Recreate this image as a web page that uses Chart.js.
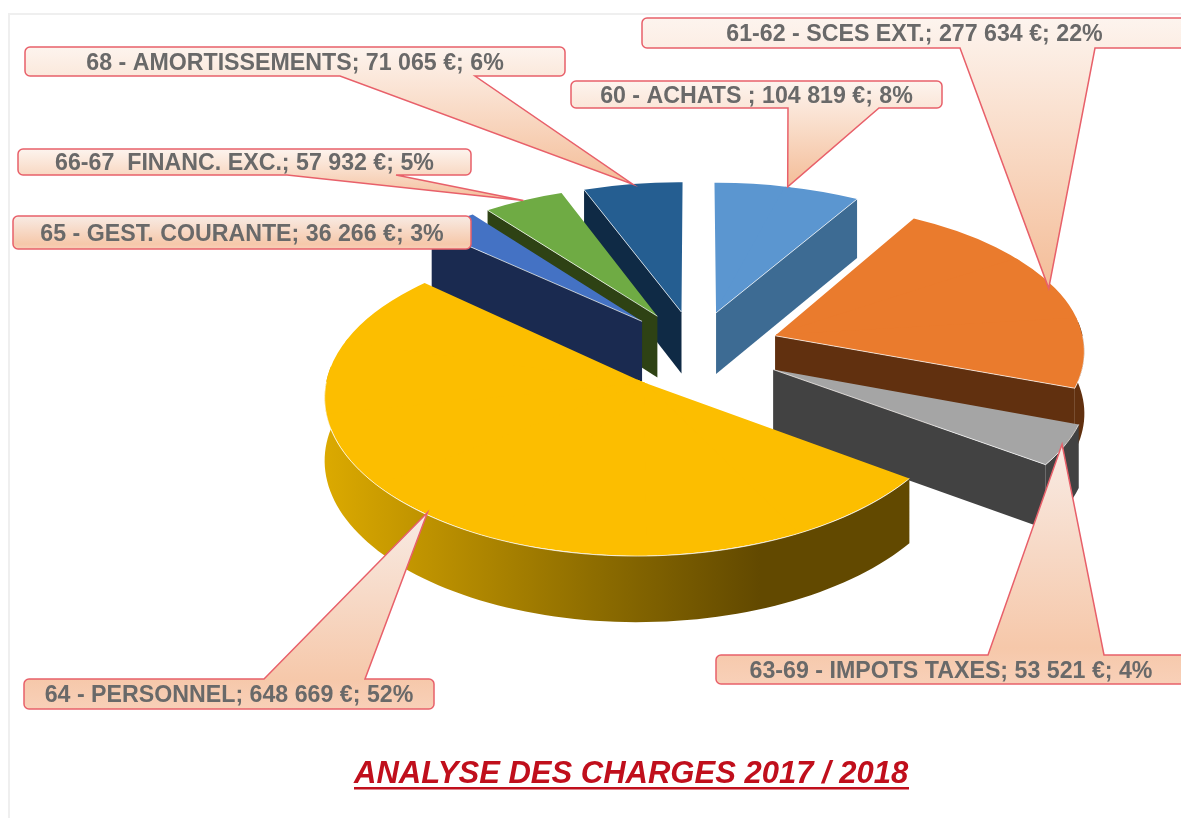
<!DOCTYPE html>
<html lang="fr">
<head>
<meta charset="utf-8">
<title>Analyse des charges 2017 / 2018</title>
<script src="https://cdn.jsdelivr.net/npm/chart.js@4/dist/chart.umd.min.js"></script>
<style>
    html, body { margin: 0; padding: 0; background: #fff; }
    canvas { display: block; filter: blur(0.4px); }
</style>
</head>
<body>
<canvas id="chargesChart" width="1181" height="818"></canvas>
<script>
// values read from the callouts
const categories = ['60 - ACHATS ', '61-62 - SCES EXT.', '63-69 - IMPOTS TAXES', '64 - PERSONNEL',
    '65 - GEST. COURANTE', '66-67  FINANC. EXC.', '68 - AMORTISSEMENTS'];
const amounts = [104819, 277634, 53521, 648669, 36266, 57932, 71065];
const titleText = 'ANALYSE DES CHARGES 2017 / 2018';

const topColors = ['#5b96d0', '#ea7b2d', '#a5a5a5', '#fcbe00', '#4472c4', '#6fab44', '#255e91'];
const sideColors = ['#3d6b93', '#61300f', '#424242', null, '#1a2a50', '#2e4214', '#0f2a45'];
const explode = [0.26, 0.275, 0.28, 0.27, 0.26, 0.26, 0.26];
const drawOrder = [6, 0, 5, 4, 1, 2, 3]; // back to front

// callout boxes: x, y, w, h, then where the pointer leaves the box
const callouts = [
    [571, 81, 371, 27, 788, 879],
    [642, 18, 545, 30, 960, 1095],
    [716, 655, 470, 29, 988, 1104],
    [24, 679, 410, 30, 264, 365],
    [13, 216, 458, 33, null, null],
    [18, 149, 453, 26, 287, 396],
    [25, 47, 540, 29, 340, 475]
];
const tipRadius = [1, 0.98, 0.99, 0.99, 1, 1, 1];

// camera for the tilted pie
const cam = { cx: 695.5, cy: 349.6, fx: 310, fy: 150, px: 0.085, py: 0.1, depth: 62 };

const sum = amounts.reduce((a, b) => a + b, 0);
const euros = (v) => String(v).replace(/\B(?=(\d{3})+$)/g, ' ');
const calloutText = (i) => `${categories[i]}; ${euros(amounts[i])} €; ${Math.round(amounts[i] / sum * 100)}%`;

// angles from 12 o'clock, clockwise, taken from the arc element
const angles = (arc) => [arc.startAngle + Math.PI / 2, arc.endAngle + Math.PI / 2];

// project a point of slice i (angle, radius in pie units) to the page
function project(i, arc, th, r) {
    const [a0, a1] = angles(arc);
    const mid = (a0 + a1) / 2;
    const X = explode[i] * Math.sin(mid) + r * Math.sin(th);
    const Y = -explode[i] * Math.cos(mid) - r * Math.cos(th);
    const wy = 1 - cam.py * Y;
    return {
        x: cam.cx + cam.fx * X / (1 - cam.px * Y),
        y: cam.cy + cam.fy * Y / wy,
        d: cam.depth / Math.sqrt(wy)
    };
}

function rimPoints(i, arc, from, to) {
    const pts = [];
    const n = Math.max(2, Math.ceil((to - from) / 0.03));
    for (let k = 0; k <= n; k++) pts.push(project(i, arc, from + (to - from) * k / n, 1));
    return pts;
}

function fillPoly(ctx, pts, fill) {
    ctx.beginPath();
    pts.forEach((p, k) => k ? ctx.lineTo(p.x, p.y) : ctx.moveTo(p.x, p.y));
    ctx.closePath();
    ctx.fillStyle = fill;
    ctx.fill();
}

const lowered = (p) => ({ x: p.x, y: p.y + p.d, d: p.d });

// true when the wall under the radial edge at angle th can be seen
function edgeFacesViewer(i, arc, th) {
    const [a0, a1] = angles(arc);
    const apex = project(i, arc, a0, 0);
    const inner = project(i, arc, (a0 + a1) / 2, 0.6);
    const p = project(i, arc, th, 1);
    if (Math.abs(p.x - apex.x) < 6) return false;
    return inner.y < apex.y + (p.y - apex.y) * (inner.x - apex.x) / (p.x - apex.x);
}

function drawWalls(ctx, i, arc) {
    const [a0, a1] = angles(arc);
    let fill = sideColors[i];
    if (!fill) {
        fill = ctx.createLinearGradient(323, 0, 760, 0);
        fill.addColorStop(0, '#dcaa00');
        fill.addColorStop(0.3, '#b68c00');
        fill.addColorStop(0.65, '#8a6a00');
        fill.addColorStop(1, '#624900');
    }
    const apex = project(i, arc, a0, 0);
    [a0, a1].forEach(th => {
        if (!edgeFacesViewer(i, arc, th)) return;
        const p = project(i, arc, th, 1);
        fillPoly(ctx, [apex, p, lowered(p), lowered(apex)], fill);
    });
    // only the front of the rim shows a wall
    const from = Math.max(a0, Math.PI / 2 - 0.1), to = Math.min(a1, Math.PI * 1.5 + 0.1);
    if (to > from) {
        const rim = rimPoints(i, arc, from, to);
        fillPoly(ctx, rim.concat(rim.map(lowered).reverse()), fill);
    }
}

// the library draws the slice; each wedge of it gets the affine that fits the camera
function drawTop(ctx, i, arc) {
    const [a0, a1] = angles(arc);
    const n = Math.ceil((a1 - a0) / (Math.PI / 6));
    const step = (a1 - a0) / n;
    const R = arc.outerRadius;
    for (let k = 0; k < n; k++) {
        const a = a0 + k * step, b = a + step;
        const A = project(i, arc, a, 0), Pa = project(i, arc, a, 1), Pb = project(i, arc, b, 1);
        const u1 = [R * Math.sin(a), -R * Math.cos(a)], u2 = [R * Math.sin(b), -R * Math.cos(b)];
        const v1 = [Pa.x - A.x, Pa.y - A.y], v2 = [Pb.x - A.x, Pb.y - A.y];
        const det = u1[0] * u2[1] - u2[0] * u1[1];
        const m = [(v1[0] * u2[1] - v2[0] * u1[1]) / det, (v1[1] * u2[1] - v2[1] * u1[1]) / det,
            (v2[0] * u1[0] - v1[0] * u2[0]) / det, (v2[1] * u1[0] - v1[1] * u2[0]) / det];
        // clip starts a little behind the apex so neighbouring wedges leave no seam
        const back = project(i, arc, (a + b) / 2, 0.03);
        ctx.save();
        ctx.beginPath();
        ctx.moveTo(2 * A.x - back.x, 2 * A.y - back.y);
        [a - 0.01, b + 0.01].forEach(t => {
            const q = project(i, arc, t, 1.1);
            ctx.lineTo(q.x, q.y);
        });
        ctx.closePath();
        ctx.clip();
        ctx.setTransform(m[0], m[1], m[2], m[3],
            A.x - m[0] * arc.x - m[2] * arc.y, A.y - m[1] * arc.x - m[3] * arc.y);
        arc.draw(ctx);
        ctx.restore();
    }
}

// thin pale line where the top face meets a visible wall
function drawEdges(ctx, i, arc) {
    const [a0, a1] = angles(arc);
    const apex = project(i, arc, a0, 0);
    ctx.save();
    ctx.strokeStyle = 'rgba(255,255,255,0.7)';
    ctx.lineWidth = 1;
    [a0, a1].forEach(th => {
        if (!edgeFacesViewer(i, arc, th)) return;
        const p = project(i, arc, th, 1);
        ctx.beginPath();
        ctx.moveTo(apex.x, apex.y);
        ctx.lineTo(p.x, p.y);
        ctx.stroke();
    });
    if (a1 > Math.PI / 2 && a0 < Math.PI * 1.5) {
        const front = rimPoints(i, arc, Math.max(a0, Math.PI / 2), Math.min(a1, Math.PI * 1.5));
        ctx.beginPath();
        front.forEach((p, k) => k ? ctx.lineTo(p.x, p.y) : ctx.moveTo(p.x, p.y));
        ctx.stroke();
    }
    ctx.restore();
}

function drawCallout(ctx, i, arc) {
    const [x, y, w, h, base0, base1] = callouts[i];
    const [a0, a1] = angles(arc);
    const tip = project(i, arc, (a0 + a1) / 2, tipRadius[i]);
    const hasPointer = base0 !== null;
    const above = hasPointer && tip.y < y;
    const below = hasPointer && tip.y > y + h;
    const r = 5;
    ctx.beginPath();
    ctx.moveTo(x + r, y);
    if (above) {
        ctx.lineTo(base0, y);
        ctx.lineTo(tip.x, tip.y);
        ctx.lineTo(base1, y);
    }
    ctx.arcTo(x + w, y, x + w, y + h, r);
    ctx.arcTo(x + w, y + h, x, y + h, r);
    if (below) {
        ctx.lineTo(base1, y + h);
        ctx.lineTo(tip.x, tip.y);
        ctx.lineTo(base0, y + h);
    }
    ctx.arcTo(x, y + h, x, y, r);
    ctx.arcTo(x, y, x + w, y, r);
    ctx.closePath();
    const grad = ctx.createLinearGradient(0, above ? tip.y : y, 0, below ? tip.y : y + h);
    if (below) {
        grad.addColorStop(0, '#fdf4ee');
        grad.addColorStop(1, '#f4bd98');
    } else {
        grad.addColorStop(0, '#f8ebe4');
        grad.addColorStop(0.85, '#f6c8aa');
        grad.addColorStop(1, '#f8d0b8');
    }
    ctx.fillStyle = grad;
    ctx.fill();
    ctx.strokeStyle = '#e8606a';
    ctx.lineWidth = 1.5;
    ctx.stroke();
    ctx.fillStyle = '#696969';
    ctx.font = 'bold 23.2px "Liberation Sans", Arial, sans-serif';
    ctx.textAlign = 'center';
    ctx.textBaseline = 'middle';
    ctx.fillText(calloutText(i), x + w / 2, y + h / 2 + 2);
}

const pie3d = {
    id: 'pie3d',
    beforeDraw(chart) {
        const ctx = chart.ctx;
        ctx.save();
        ctx.strokeStyle = '#efefef';
        ctx.lineWidth = 2;
        ctx.beginPath();
        ctx.moveTo(9, 818);
        ctx.lineTo(9, 14);
        ctx.lineTo(1181, 14);
        ctx.stroke();
        ctx.restore();
    },
    // slices are painted here, back to front, instead of in data order
    beforeDatasetDraw(chart) {
        const ctx = chart.ctx;
        const arcs = chart.getDatasetMeta(0).data;
        drawOrder.forEach(i => {
            drawWalls(ctx, i, arcs[i]);
            drawTop(ctx, i, arcs[i]);
            drawEdges(ctx, i, arcs[i]);
        });
        return false;
    },
    afterDatasetsDraw(chart) {
        const ctx = chart.ctx;
        const arcs = chart.getDatasetMeta(0).data;
        ctx.save();
        categories.forEach((_, i) => drawCallout(ctx, i, arcs[i]));
        ctx.font = 'italic bold 31px "Liberation Sans", Arial, sans-serif';
        ctx.textAlign = 'left';
        ctx.textBaseline = 'alphabetic';
        ctx.fillStyle = '#c00f1c';
        ctx.fillText(titleText, 354, 783);
        ctx.fillRect(354, 787, 555, 2.5);
        ctx.restore();
    }
};

new Chart(document.getElementById('chargesChart').getContext('2d'), {
    type: 'pie',
    data: {
        labels: categories,
        datasets: [{ data: amounts, backgroundColor: topColors, borderWidth: 0 }]
    },
    options: {
        responsive: false,
        animation: false,
        layout: { padding: 40 },
        plugins: { legend: { display: false }, tooltip: { enabled: false } }
    },
    plugins: [pie3d]
});
</script>
</body>
</html>
